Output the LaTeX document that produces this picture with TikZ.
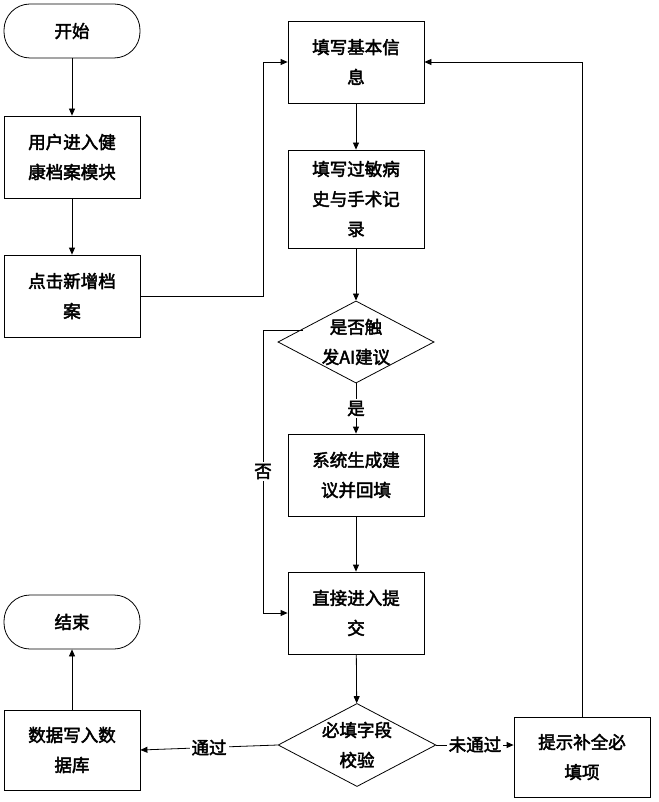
\documentclass[tikz,border=0pt]{standalone}
\usepackage{fontspec}
\setmainfont{Noto Sans CJK SC}[AutoFakeBold=2.5]
\usetikzlibrary{shapes.geometric,arrows.meta}
\begin{document}
\begin{tikzpicture}[x=1pt,y=-1pt,
  every node/.style={font=\fontsize{17.5}{30}\selectfont\bfseries,align=center,text=black},
  box/.style={draw,thick,minimum width=136pt,minimum height=82pt,inner sep=0},
  term/.style={draw,thick,rounded corners=26pt,minimum width=136pt,minimum height=54pt},
  dia/.style={draw,thick,diamond,aspect=1.9,minimum width=148pt,minimum height=78pt,inner sep=0},
  arr/.style={thick,-{Triangle[length=7pt,width=6pt]}},
  lab/.style={fill=white,inner sep=2pt}]
\useasboundingbox (0,0) rectangle (658,802);
\node[term] (start) at (72,31) {开始};
\node[box] (user) at (72,157) {用户进入健\\康档案模块};
\node[box] (click) at (72,296) {点击新增档\\案};
\node[box] (basic) at (356,62) {填写基本信\\息};
\node[box,minimum height=98pt] (hist) at (356,199) {填写过敏病\\史与手术记\\录};
\node[dia] (ai) at (356,342) {是否触\\发AI建议};
\node[box] (gen) at (356,475) {系统生成建\\议并回填};
\node[box] (sub) at (356,613) {直接进入提\\交};
\node[dia,minimum height=80pt] (chk) at (357,745) {必填字段\\校验};
\node[box,minimum height=80pt] (tip) at (582,757) {提示补全必\\填项};
\node[box,minimum height=80pt] (db) at (72,750) {数据写入数\\据库};
\node[term] (end) at (72,622) {结束};
\coordinate (c1) at (263,296);
\coordinate (c2) at (263,62);
\coordinate (c0) at (303,330);
\coordinate (c3) at (263,330);
\coordinate (c4) at (263,613);
\coordinate (c5) at (582,62);
\draw[arr] (start) -- (user);
\draw[arr] (user) -- (click);
\draw[arr] (click.east) -- (c1) -- (c2) -- (basic.west);
\draw[arr] (basic) -- (hist);
\draw[arr] (hist) -- (ai);
\draw[arr] (ai) -- node[lab]{是} (gen);
\draw[arr] (gen) -- (sub);
\draw[arr] (c0) -- (c3) -- node[lab]{否} (c4) -- (sub.west);
\draw[arr] (sub) -- (chk);
\draw[arr] (chk.west) -- node[lab]{通过} (db.east);
\draw[arr] (chk.east) -- node[lab,above=-10pt]{未通过} (tip.west |- chk.east);
\draw[arr] (tip.north) -- (c5) -- (basic.east);
\draw[arr] (db) -- (end);
\end{tikzpicture}
\end{document}
